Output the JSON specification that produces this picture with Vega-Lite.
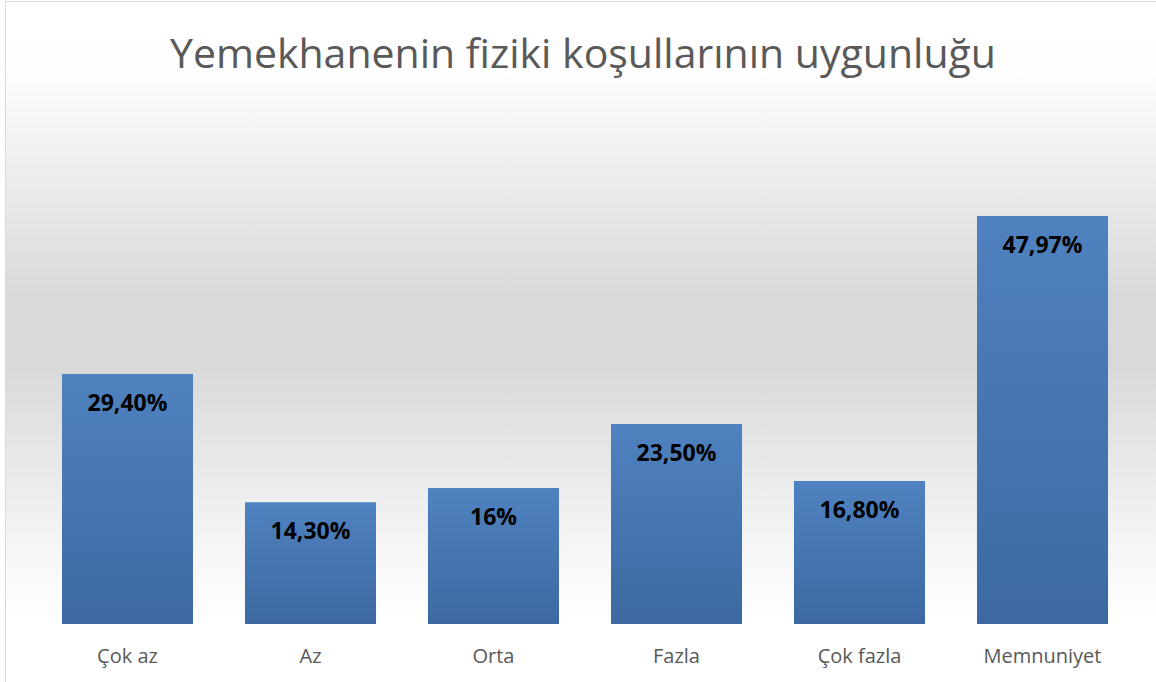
{
  "$schema": "https://vega.github.io/schema/vega-lite/v6.json",
  "width": 1154,
  "height": 684,
  "autosize": {"type": "none"},
  "padding": {"left": 6, "top": 2, "right": 0, "bottom": 0},
  "background": "#ffffff",
  "title": {
    "text": "Yemekhanenin fiziki koşullarının uygunluğu",
    "orient": "top",
    "anchor": "middle",
    "frame": "group",
    "offset": -66,
    "dy": 41,
    "baseline": "alphabetic",
    "zindex": 2,
    "font": "Open Sans",
    "fontSize": 41,
    "fontWeight": "normal",
    "color": "#595959"
  },
  "config": {
    "view": {"stroke": "#d9d9d9", "strokeWidth": 2},
    "axis": {"grid": false}
  },
  "data": {
    "values": [
      {"category": "Çok az", "value": 29.40, "label": "29,40%"},
      {"category": "Az", "value": 14.30, "label": "14,30%"},
      {"category": "Orta", "value": 16.00, "label": "16%"},
      {"category": "Fazla", "value": 23.50, "label": "23,50%"},
      {"category": "Çok fazla", "value": 16.80, "label": "16,80%"},
      {"category": "Memnuniyet", "value": 47.97, "label": "47,97%"}
    ]
  },
  "layer": [
    {
      "mark": {
        "type": "rect",
        "color": {
          "gradient": "linear",
          "x1": 0, "y1": 0, "x2": 0, "y2": 1,
          "stops": [
            {"offset": 0, "color": "#ffffff"},
            {"offset": 0.1, "color": "#fefefe"},
            {"offset": 0.43, "color": "#d9d9d9"},
            {"offset": 0.53, "color": "#d9d9d9"},
            {"offset": 0.82, "color": "#f8f8f8"},
            {"offset": 0.9, "color": "#ffffff"},
            {"offset": 1, "color": "#ffffff"}
          ]
        }
      },
      "encoding": {}
    },
    {
      "mark": {
        "type": "bar",
        "color": {
          "gradient": "linear",
          "x1": 0, "y1": 0, "x2": 0, "y2": 1,
          "stops": [
            {"offset": 0, "color": "#4f82c0"},
            {"offset": 1, "color": "#3c69a1"}
          ]
        }
      },
      "encoding": {
        "x": {
          "field": "category",
          "type": "nominal",
          "sort": null,
          "scale": {"paddingInner": 0.284, "paddingOuter": 0.295, "align": 0.5185},
          "axis": {
            "title": null,
            "orient": "bottom",
            "offset": -62,
            "zindex": 1,
            "domain": false,
            "ticks": false,
            "tickSize": 0,
            "labelAngle": 0,
            "labelPadding": 32,
            "labelBaseline": "middle",
            "labelFont": "Open Sans",
            "labelFontSize": 20,
            "labelColor": "#595959"
          }
        },
        "y": {
          "field": "value",
          "type": "quantitative",
          "scale": {"domain": [-7.29, 73.13], "nice": false, "zero": false},
          "axis": null
        }
      }
    },
    {
      "mark": {
        "type": "text",
        "dy": 30,
        "baseline": "middle",
        "align": "center",
        "font": "Open Sans",
        "fontSize": 23,
        "fontWeight": "bold",
        "color": "#000000"
      },
      "encoding": {
        "x": {"field": "category", "type": "nominal", "sort": null},
        "y": {"field": "value", "type": "quantitative"},
        "text": {"field": "label", "type": "nominal"}
      }
    }
  ]
}
